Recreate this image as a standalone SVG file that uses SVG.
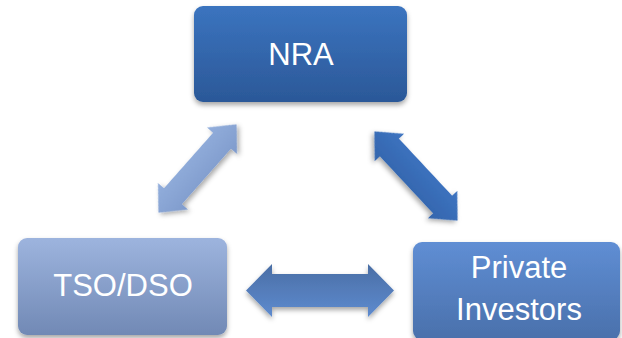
<svg xmlns="http://www.w3.org/2000/svg" width="622" height="338" viewBox="0 0 622 338">
  <defs>
    <linearGradient id="gNra" x1="0" y1="0" x2="0" y2="1">
      <stop offset="0" stop-color="#3b74bf"/>
      <stop offset="1" stop-color="#2b5898"/>
    </linearGradient>
    <linearGradient id="gTso" x1="0" y1="0" x2="0" y2="1">
      <stop offset="0" stop-color="#9db4de"/>
      <stop offset="1" stop-color="#7189b5"/>
    </linearGradient>
    <linearGradient id="gPi" x1="0" y1="0" x2="0" y2="1">
      <stop offset="0" stop-color="#5f8ed4"/>
      <stop offset="1" stop-color="#4a70ab"/>
    </linearGradient>
    <linearGradient id="gH" x1="0" y1="0" x2="0" y2="1">
      <stop offset="0" stop-color="#4a6ea5"/>
      <stop offset="1" stop-color="#5e8bcf"/>
    </linearGradient>
    <linearGradient id="gL" x1="0" y1="0" x2="0" y2="1">
      <stop offset="0" stop-color="#92aedc"/>
      <stop offset="1" stop-color="#7f9bcc"/>
    </linearGradient>
    <linearGradient id="gR" x1="0" y1="0" x2="0" y2="1">
      <stop offset="0" stop-color="#3d74c1"/>
      <stop offset="1" stop-color="#3465ad"/>
    </linearGradient>
    <filter id="shadow" x="-20%" y="-20%" width="140%" height="150%">
      <feDropShadow dx="0" dy="3" stdDeviation="2.5" flood-color="#000" flood-opacity="0.35"/>
    </filter>
  </defs>
  <style>
    .box { filter: url(#shadow); }
    .lbl { font-family: "Liberation Sans", Arial, sans-serif; font-size: 31px; fill: #ffffff; text-anchor: middle; }
    .arrow { filter: url(#shadow); }
  </style>

  <rect width="622" height="338" fill="#ffffff"/>

  <g id="connectors">
    <!-- NRA <-> TSO/DSO -->
    <polygon class="arrow" fill="url(#gL)" transform="translate(197.5,168.5) rotate(-48.5)"
      points="-59,0 -37,-20 -37,-12 37,-12 37,-20 59,0 37,20 37,12 -37,12 -37,20"/>
    <!-- NRA <-> Private Investors -->
    <polygon class="arrow" fill="url(#gR)" transform="translate(416,176) rotate(47)"
      points="-61,0 -39,-20 -39,-13 39,-13 39,-20 61,0 39,20 39,13 -39,13 -39,20"/>
    <!-- TSO/DSO <-> Private Investors -->
    <polygon class="arrow" fill="url(#gH)"
      points="246,290.5 272,264 272,274 368,274 368,264 394,290.5 368,317 368,307 272,307 272,317"/>
  </g>

  <g id="nra">
    <rect class="box" x="194" y="6" width="213" height="96" rx="9" fill="url(#gNra)"/>
    <text class="lbl" x="301" y="65">NRA</text>
  </g>

  <g id="tso-dso">
    <rect class="box" x="18" y="238" width="209" height="97" rx="9" fill="url(#gTso)"/>
    <text class="lbl" x="123" y="296">TSO/DSO</text>
  </g>

  <g id="private-investors">
    <rect class="box" x="413" y="242" width="207" height="98" rx="9" fill="url(#gPi)"/>
    <text class="lbl" x="519" y="278">Private</text>
    <text class="lbl" x="519" y="320">Investors</text>
  </g>
</svg>
